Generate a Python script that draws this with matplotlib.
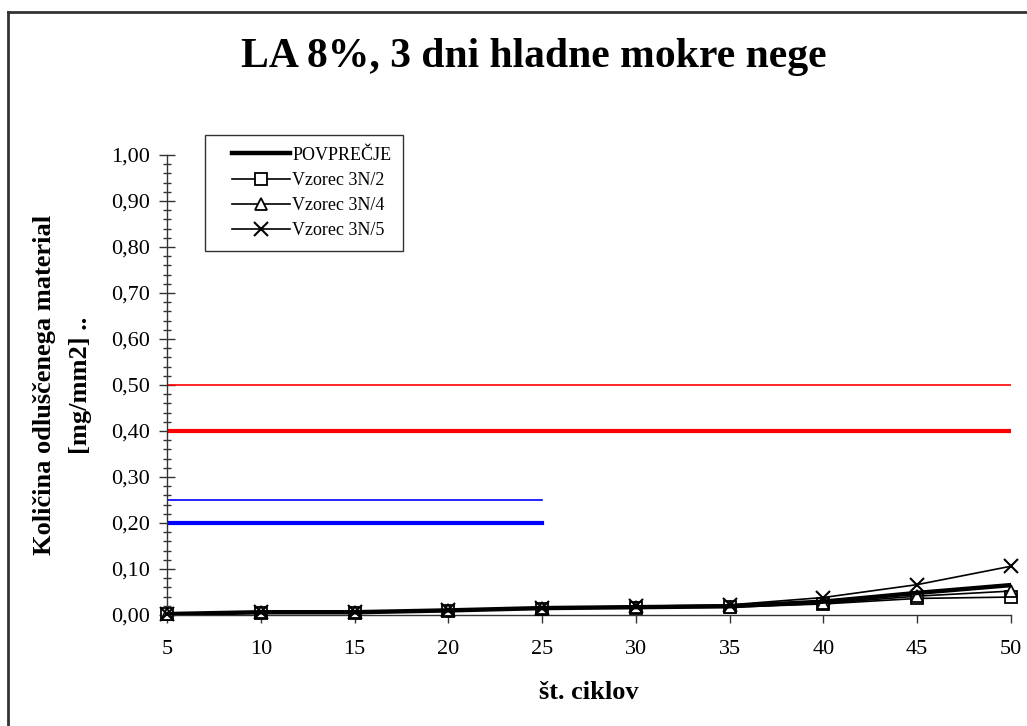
import matplotlib
matplotlib.use('agg')
import matplotlib.pyplot as plt
from matplotlib.legend_handler import HandlerLine2D
from matplotlib.lines import Line2D
from matplotlib.ticker import FuncFormatter, MultipleLocator

# number of cycles and scaled mass per sample [mg/mm2]
cycles = [5, 10, 15, 20, 25, 30, 35, 40, 45, 50]
avg = [0.002, 0.006, 0.006, 0.010, 0.015, 0.017, 0.019, 0.029, 0.048, 0.065]
s_3n2 = [0.002, 0.005, 0.005, 0.009, 0.014, 0.016, 0.017, 0.024, 0.036, 0.039]
s_3n4 = [0.002, 0.006, 0.006, 0.010, 0.015, 0.017, 0.018, 0.025, 0.041, 0.052]
s_3n5 = [0.003, 0.007, 0.007, 0.011, 0.016, 0.019, 0.022, 0.038, 0.066, 0.106]

# limit lines: (value, x-range)
red_limits = [0.50, 0.40]
red_span = [5, 50]
blue_limits = [0.25, 0.20]
blue_span = [5, 25]

plt.rcParams['font.family'] = ['Liberation Serif', 'DejaVu Serif']

fig = plt.figure(figsize=(10.27, 7.26), dpi=100)
ax = fig.add_axes([0.1626, 0.1529, 0.8218, 0.6336])

ax.plot(red_span, [red_limits[0]] * 2, color='#ff0000', lw=1.2, zorder=2)
ax.plot(red_span, [red_limits[1]] * 2, color='#ff0000', lw=3.0, zorder=2)
ax.plot(blue_span, [blue_limits[0]] * 2, color='#0000ff', lw=1.2, zorder=2)
ax.plot(blue_span, [blue_limits[1]] * 2, color='#0000ff', lw=3.0, zorder=2)

mk = dict(color='black', lw=1.2, markersize=8, markerfacecolor='white',
          markeredgewidth=1.3, clip_on=False, zorder=4)
ax.plot(cycles, s_3n2, marker='s', label='Vzorec 3N/2', **mk)
ax.plot(cycles, s_3n4, marker='^', label='Vzorec 3N/4', **mk)
ax.plot(cycles, s_3n5, marker='x', label='Vzorec 3N/5',
        color='black', lw=1.2, markersize=10, markeredgewidth=1.5,
        clip_on=False, zorder=4)
ax.plot(cycles, avg, color='black', lw=3.2, label='POVPREČJE', zorder=5)

ax.set_xlim(5, 50)
ax.set_ylim(0, 1.0)
ax.set_xticks(cycles)
ax.yaxis.set_major_locator(MultipleLocator(0.1))
ax.yaxis.set_minor_locator(MultipleLocator(0.02))
ax.yaxis.set_major_formatter(FuncFormatter(lambda v, p: '{:.2f}'.format(v).replace('.', ',')))

ax.spines['top'].set_visible(False)
ax.spines['right'].set_visible(False)
for s in ('left', 'bottom'):
    ax.spines[s].set_linewidth(1.0)
    ax.spines[s].set_color('#333333')

ax.tick_params(axis='y', which='major', direction='inout', length=12, width=1.0,
               labelsize=16, pad=6, color='#333333')
ax.tick_params(axis='y', which='minor', direction='inout', length=6, width=1.0,
               color='#333333')
ax.tick_params(axis='x', which='major', direction='out', length=6, width=1.0,
               labelsize=16, pad=12, color='#333333')

ax.set_xlabel('št. ciklov', fontsize=19, fontweight='bold', labelpad=16)
ax.set_ylabel('Količina odluščenega material\n[mg/mm2] ..', fontsize=19,
              fontweight='bold', labelpad=14, linespacing=1.7)

fig.text(0.52, 1 - 57 / 726, 'LA 8%, 3 dni hladne mokre nege', ha='center', va='center',
         fontsize=30, fontweight='bold')

handles, labels = ax.get_legend_handles_labels()
order = [3, 0, 1, 2]
leg = ax.legend([handles[i] for i in order], [labels[i] for i in order],
                loc='upper left', bbox_to_anchor=(205 / 1027, 1 - 135 / 726),
                bbox_transform=fig.transFigure, fontsize=13, frameon=True,
                fancybox=False, edgecolor='black', handlelength=4.04,
                handletextpad=0.13, borderpad=0.65, labelspacing=0.45,
                borderaxespad=0,
                handler_map={Line2D: HandlerLine2D(xpad=0.83)})
leg.get_frame().set_linewidth(1.0)

# outer chart frame (only top and left edges fall inside the image)
fig.add_artist(Line2D([8 / 1027, 8 / 1027], [0, 1 - 12 / 726], transform=fig.transFigure,
                      color='#333333', lw=2))
fig.add_artist(Line2D([8 / 1027, 1], [1 - 12 / 726, 1 - 12 / 726], transform=fig.transFigure,
                      color='#333333', lw=2))

plt.savefig('out.png', dpi=100)
